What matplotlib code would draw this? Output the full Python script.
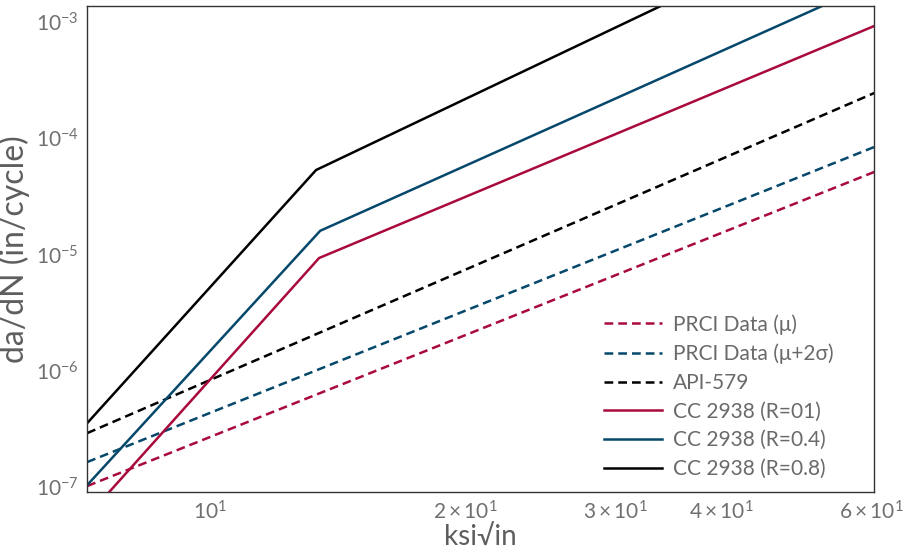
import matplotlib
matplotlib.use('Agg')
import matplotlib.pyplot as plt

# Crack growth rate curves (ksi*sqrt(in) vs in/cycle)
dk_dashed = [7.17, 60.5]
prci_mu = [1.02e-7, 5.13e-5]
prci_2sigma = [1.64e-7, 8.41e-5]
api_579 = [2.91e-7, 2.45e-4]

dk_r01 = [7.61, 13.44, 60.5]
cc_r01 = [9.06e-8, 9.33e-6, 9.24e-4]
dk_r04 = [7.17, 13.48, 52.5]
cc_r04 = [1.04e-7, 1.60e-5, 1.37e-3]
dk_r08 = [7.17, 13.33, 33.9]
cc_r08 = [3.55e-7, 5.33e-5, 1.37e-3]

RED = '#a90a3c'
BLUE = '#06486b'
BLACK = '#000000'
GREY = '#5e5e5e'

plt.rcParams['font.family'] = ['Lato', 'DejaVu Sans']
plt.rcParams['mathtext.fontset'] = 'custom'
plt.rcParams['mathtext.rm'] = 'Lato'
plt.rcParams['mathtext.it'] = 'Lato:italic'
plt.rcParams['mathtext.default'] = 'regular'

fig = plt.figure(figsize=(9.19, 5.52), dpi=100)
ax = fig.add_axes([87 / 919, 1 - 492 / 552, 787 / 919, 486 / 552])

dash = (0, (3.5, 2.0))
lw = 1.8
ax.plot(dk_dashed, prci_mu, color=RED, lw=lw, ls=dash, label='PRCI Data (\u03bc)')
ax.plot(dk_dashed, prci_2sigma, color=BLUE, lw=lw, ls=dash, label='PRCI Data (\u03bc+2\u03c3)')
ax.plot(dk_dashed, api_579, color=BLACK, lw=lw, ls=dash, label='API-579')
ax.plot(dk_r01, cc_r01, color=RED, lw=lw, label='CC 2938 (R=01)')
ax.plot(dk_r04, cc_r04, color=BLUE, lw=lw, label='CC 2938 (R=0.4)')
ax.plot(dk_r08, cc_r08, color=BLACK, lw=lw, label='CC 2938 (R=0.8)')

ax.set_xscale('log')
ax.set_yscale('log')
ax.set_xlim(7.165, 60.46)
ax.set_ylim(9.06e-8, 1.373e-3)

for s in ax.spines.values():
    s.set_color('#333333')
    s.set_linewidth(1.0)

ax.tick_params(which='both', length=0, colors='#707070', labelsize=15)
ax.tick_params(axis='y', which='both', pad=6)
ax.tick_params(axis='x', which='both', pad=6)

ax.set_xlabel('ksi\u221ain', fontsize=20, color=GREY, labelpad=0)
ax.set_ylabel('da/dN (in/cycle)', fontsize=23, color=GREY, labelpad=4)

leg = ax.legend(loc='lower right', bbox_to_anchor=(0.972, -0.012), frameon=False,
                fontsize=15, handlelength=2.8, labelspacing=0.42, handletextpad=0.5)
for t in leg.get_texts():
    t.set_color('#6a6a6a')

fig.savefig('out.png', dpi=100)
